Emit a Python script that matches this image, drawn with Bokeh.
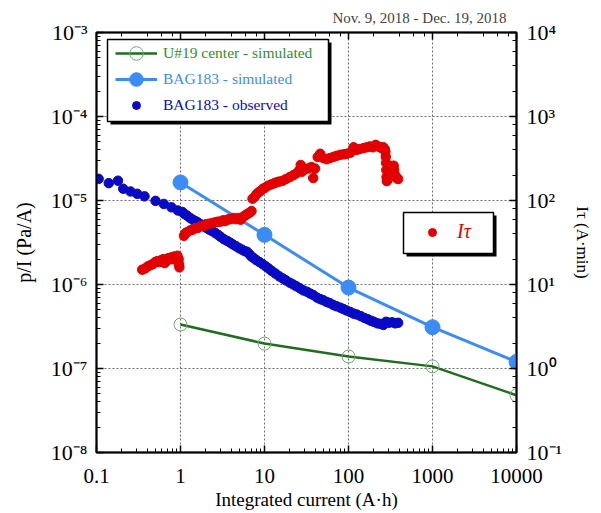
from bokeh.plotting import figure
from bokeh.models import (Range1d, LogAxis, LogScale, Legend, LegendItem,
                          BoxAnnotation, CustomJSTickFormatter)
from bokeh.embed import file_html
from bokeh.resources import INLINE

# ---------------- data ----------------
sim_x = [1, 10, 100, 1000, 10000]
u19_sim = [3.34e-7, 1.98e-7, 1.39e-7, 1.06e-7, 4.8e-8]
bag183_sim = [1.64e-5, 3.9e-6, 9.2e-7, 3.1e-7, 1.2e-7]

obs_x = [0.106, 0.14, 0.18, 0.208, 0.254, 0.305, 0.373, 0.504, 0.633, 0.78, 0.93,
         1.05, 1.12, 1.2, 1.3, 1.4, 1.5, 1.6, 1.75, 1.9, 2.05, 2.2, 2.4, 2.6, 2.8,
         3.0, 3.3, 3.6, 3.9, 4.2, 4.6, 5.0, 5.4, 5.8, 6.2, 6.6, 7.0, 7.5, 8.0, 8.7,
         9.5, 10.3, 11.2, 12.2, 13.5, 15, 16.5, 18, 20, 22, 24, 26.5, 29, 32, 35,
         38, 42, 46, 50, 55, 60, 66, 72, 80, 87, 95, 105, 115, 125, 140, 155, 170,
         185, 200, 220, 240, 260, 280, 300, 330, 360, 390]
obs_y = [1.81e-5, 1.61e-5, 1.72e-5, 1.38e-5, 1.28e-5, 1.20e-5, 1.12e-5, 9.9e-6, 9.1e-6, 8.3e-6, 7.6e-6,
         7.3e-6, 6.9e-6, 6.6e-6, 6.2e-6, 5.9e-6, 5.7e-6, 5.5e-6, 5.2e-6, 4.9e-6, 4.7e-6, 4.5e-6, 4.3e-6, 4.1e-6, 3.9e-6,
         3.7e-6, 3.45e-6, 3.3e-6, 3.15e-6, 3.0e-6, 2.85e-6, 2.7e-6, 2.6e-6, 2.5e-6, 2.45e-6, 2.3e-6, 2.15e-6, 2.05e-6, 1.95e-6, 1.85e-6,
         1.75e-6, 1.65e-6, 1.55e-6, 1.45e-6, 1.35e-6, 1.25e-6, 1.18e-6, 1.12e-6, 1.05e-6, 1.0e-6, 9.5e-7, 9.0e-7, 8.5e-7, 8.2e-7, 7.8e-7,
         7.5e-7, 7.0e-7, 6.7e-7, 6.5e-7, 6.2e-7, 6.0e-7, 5.7e-7, 5.5e-7, 5.3e-7, 5.1e-7, 4.9e-7, 4.7e-7, 4.5e-7, 4.4e-7, 4.2e-7, 4.0e-7, 3.85e-7,
         3.7e-7, 3.6e-7, 3.45e-7, 3.4e-7, 3.3e-7, 3.6e-7, 3.5e-7, 3.55e-7, 3.45e-7, 3.5e-7]

itau_x = [0.35, 0.38, 0.41, 0.44, 0.47, 0.5, 0.53, 0.56, 0.59, 0.62, 0.65, 0.68, 0.71, 0.74, 0.77,
          0.8, 0.84, 0.88, 0.92, 0.95, 0.96, 0.97,
          1.1, 1.15, 1.2, 1.3, 1.4, 1.5, 1.6, 1.7, 1.8, 1.9, 2.0, 2.2, 2.4, 2.6, 2.8, 3.0, 3.2, 3.4,
          3.6, 3.8, 4.0, 4.3, 4.6, 4.9, 5.2, 5.5, 5.8, 6.1, 6.4, 6.7, 7.0,
          7.2, 7.6, 8.0, 8.5, 9.0, 9.6, 10.2, 11, 12, 13, 14, 15, 16.5, 18, 20, 22, 24, 26, 27, 28,
          30, 33, 36, 38, 40, 43, 46, 50, 55, 60, 66, 72, 80, 88, 95, 105, 115, 125, 135, 150, 165,
          180, 195, 210, 225, 240, 250, 260, 270, 275, 278, 280, 282, 284, 286, 290, 300, 315, 330,
          345, 350, 360, 375, 390]
itau_y = [15, 15.5, 16.5, 17, 17.5, 18.5, 19, 18.5, 19.5, 20, 18, 19, 20.5, 20, 21,
          20, 21.5, 21, 22, 20, 17.5, 16,
          38, 41, 42, 44, 45, 47, 47, 49, 50, 50, 52, 53, 54, 55, 56, 56, 58, 57,
          59, 60, 60, 62, 60, 62, 59, 63, 66, 68, 70, 72, 75,
          105, 110, 118, 125, 130, 138, 142, 150, 155, 160, 165, 168, 172, 180, 190, 200, 210, 230, 265, 220,
          235, 240, 250, 185, 240, 330, 360, 320, 310, 320, 330, 340, 350, 355, 360, 370, 430, 400, 410, 420, 430,
          440, 430, 460, 440, 430, 420, 430, 410, 380, 330, 280, 230, 190, 170, 175, 185, 200, 240,
          260, 230, 200, 185, 180]

FONT = "Liberation Serif"
GREEN_LINE = "#1e6e1e"
GREEN_MARK = "#6fae6f"
GREEN_TEXT = "#2f8f2f"
LBLUE = "#3b8cf5"
DBLUE = "#0a0ac4"
RED = "#e30000"

p = figure(x_axis_type="log", y_axis_type="log",
           x_range=Range1d(0.1, 1e4), y_range=Range1d(1e-8, 1e-3),
           frame_width=420, frame_height=420,
           min_border_left=96, min_border_right=85, min_border_top=32, min_border_bottom=61,
           output_backend="svg", toolbar_location=None,
           background_fill_color="white", border_fill_color="white")
p.extra_y_ranges = {"itau": Range1d(0.1, 1e4)}
p.extra_y_scales = {"itau": LogScale()}

p.outline_line_color = "black"
p.outline_line_width = 2

p.title.text = "Nov. 9, 2018 - Dec. 19, 2018"
p.title.align = "right"
p.title.text_font = FONT
p.title.text_font_size = "15px"
p.title.text_font_style = "normal"
p.title.offset = 10
p.title.standoff = 13

sup_code = """
const sup = {"-": "\\u207B", "0": "\\u2070", "1": "\\u00B9", "2": "\\u00B2", "3": "\\u00B3",
             "4": "\\u2074", "5": "\\u2075", "6": "\\u2076", "7": "\\u2077", "8": "\\u2078", "9": "\\u2079"};
const e = Math.round(Math.log10(tick));
return "10" + String(e).split("").map(c => sup[c]).join("");
"""
x_code = "return tick < 1 ? tick.toFixed(1) : tick.toFixed(0);"
empty_code = "return '';"


def style_axis(ax, size="22px"):
    ax.axis_line_color = "black"
    ax.axis_line_width = 1.5
    ax.major_tick_in = 7
    ax.major_tick_out = 0
    ax.minor_tick_in = 4
    ax.minor_tick_out = 0
    ax.major_tick_line_color = "black"
    ax.major_tick_line_width = 1.5
    ax.minor_tick_line_color = "black"
    ax.minor_tick_line_width = 1
    ax.major_label_text_font = FONT
    ax.major_label_text_font_size = size
    ax.major_label_text_color = "black"


def style_label(ax, text, size):
    ax.axis_label = text
    ax.axis_label_text_font = FONT
    ax.axis_label_text_font_style = "normal"
    ax.axis_label_text_font_size = size
    ax.axis_label_text_color = "black"


xax = p.xaxis[0]
style_axis(xax, "21px")
xax.formatter = CustomJSTickFormatter(code=x_code)
xax.major_label_standoff = 16
style_label(xax, "Integrated current (A\u00b7h)", "19px")
xax.axis_label_standoff = 3

yax = p.yaxis[0]
style_axis(yax)
yax.formatter = CustomJSTickFormatter(code=sup_code)
yax.major_label_standoff = 9
style_label(yax, "p/I (Pa/A)", "20px")
yax.axis_label_standoff = 13

top_ax = LogAxis(formatter=CustomJSTickFormatter(code=empty_code))
style_axis(top_ax)
top_ax.major_label_standoff = 0
top_ax.major_label_text_font_size = "1px"
p.add_layout(top_ax, "above")

right_ax = LogAxis(y_range_name="itau", formatter=CustomJSTickFormatter(code=sup_code))
style_axis(right_ax)
right_ax.major_label_standoff = 10
style_label(right_ax, "I\u03c4 (A\u00b7min)", "17px")
right_ax.axis_label_standoff = 8
p.add_layout(right_ax, "right")

for g in (p.xgrid[0], p.ygrid[0]):
    g.grid_line_color = "#6a6a6a"
    g.grid_line_dash = "2 2"
    g.grid_line_width = 1

# ---------------- glyphs ----------------
g_line = p.line(sim_x, u19_sim, line_color=GREEN_LINE, line_width=2.5)
g_pts = p.scatter(sim_x, u19_sim, size=13, fill_color=None, line_color=GREEN_MARK, line_width=1)
b_line = p.line(sim_x, bag183_sim, line_color=LBLUE, line_width=3)
b_pts = p.scatter(sim_x, bag183_sim, size=15, fill_color=LBLUE, line_color=LBLUE)
o_pts = p.scatter(obs_x, obs_y, size=9.5, fill_color=DBLUE, line_color=DBLUE)
r_pts = p.scatter(itau_x, itau_y, size=9.5, fill_color=RED, line_color=RED, y_range_name="itau")


# ---------------- legend boxes ----------------
def box(l, r, t, b, fill, line):
    return BoxAnnotation(left=l, right=r, top=t, bottom=b,
                         left_units="screen", right_units="screen",
                         top_units="screen", bottom_units="screen",
                         fill_color=fill, fill_alpha=1,
                         line_color=line, line_width=1.5, line_alpha=1 if line else 0)

p.add_layout(box(14, 235, 410, 328, "black", None))
p.add_layout(box(11, 232, 413, 331, "white", "black"))
p.add_layout(box(310, 400, 237, 196, "black", None))
p.add_layout(box(307, 397, 240, 199, "white", "black"))


def make_legend(label, renderers, color, loc, gw, gh, standoff, size="15.5px", style="normal"):
    return Legend(items=[LegendItem(label=label, renderers=renderers)],
                  location=loc, orientation="vertical",
                  glyph_width=gw, glyph_height=gh, label_height=gh,
                  label_standoff=standoff, padding=0, margin=0, spacing=0,
                  border_line_color=None, background_fill_alpha=0,
                  label_text_font=FONT, label_text_font_size=size,
                  label_text_font_style=style, label_text_color=color)

p.add_layout(make_legend("U#19 center - simulated", [g_line, g_pts], GREEN_TEXT, (19, 382), 42, 34, 6), "center")
p.add_layout(make_legend("BAG183 - simulated", [b_line, b_pts], LBLUE, (19, 356), 42, 34, 6), "center")
p.add_layout(make_legend("BAG183 - observed", [o_pts], DBLUE, (19, 337), 42, 20, 6), "center")
p.add_layout(make_legend("I\u03c4", [r_pts], RED, (326, 209), 20, 20, 15, "20px", "italic"), "center")

open("out.html", "w").write(file_html(p, INLINE))
